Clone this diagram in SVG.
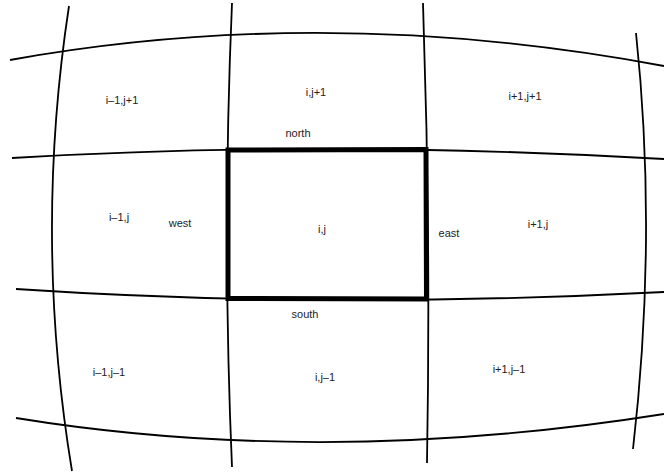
<svg xmlns="http://www.w3.org/2000/svg" width="664" height="472" viewBox="0 0 664 472">
<style>
.grid{fill:none;stroke:#000;stroke-width:1.8;stroke-linecap:butt}
.cell{fill:none;stroke:#000;stroke-width:5;stroke-linejoin:miter}
text{font-family:"Liberation Sans",Arial,sans-serif;font-size:11px;fill:#222;text-anchor:middle}
</style>
<rect width="664" height="472" fill="#fff"/>
<g id="connectors">
<path class="grid" d="M10,60 Q327,3 664,66"/>
<path class="grid" d="M12,158 Q326,139.5 664,159"/>
<path class="grid" d="M16,289 Q324,309.5 664,292"/>
<path class="grid" d="M16,418 Q324,468 664,414"/>
<path class="grid" d="M69,6 Q33.5,238 72,471"/>
<path class="grid" d="M232,3 Q222,235 232,467"/>
<path class="grid" d="M423,3 Q431,233 427,463"/>
<path class="grid" d="M636,33 Q657.5,236 633,449"/>
</g>
<g id="cell-ij">
<polygon class="cell" points="228,150 426,149.5 426.5,299 228,298.5"/>
<text x="322" y="233">i,j</text>
</g>
<g id="cell-im1-jp1"><text x="122" y="104">i–1,j+1</text></g>
<g id="cell-i-jp1"><text x="316" y="96">i,j+1</text></g>
<g id="cell-ip1-jp1"><text x="525" y="100">i+1,j+1</text></g>
<g id="cell-im1-j"><text x="119" y="221">i–1,j</text></g>
<g id="cell-ip1-j"><text x="538" y="228">i+1,j</text></g>
<g id="cell-im1-jm1"><text x="109" y="376">i–1,j–1</text></g>
<g id="cell-i-jm1"><text x="325" y="381">i,j–1</text></g>
<g id="cell-ip1-jm1"><text x="509" y="373">i+1,j–1</text></g>
<g id="face-labels">
<text x="298" y="137">north</text>
<text x="180" y="227">west</text>
<text x="449" y="237">east</text>
<text x="305" y="318">south</text>
</g>
</svg>
